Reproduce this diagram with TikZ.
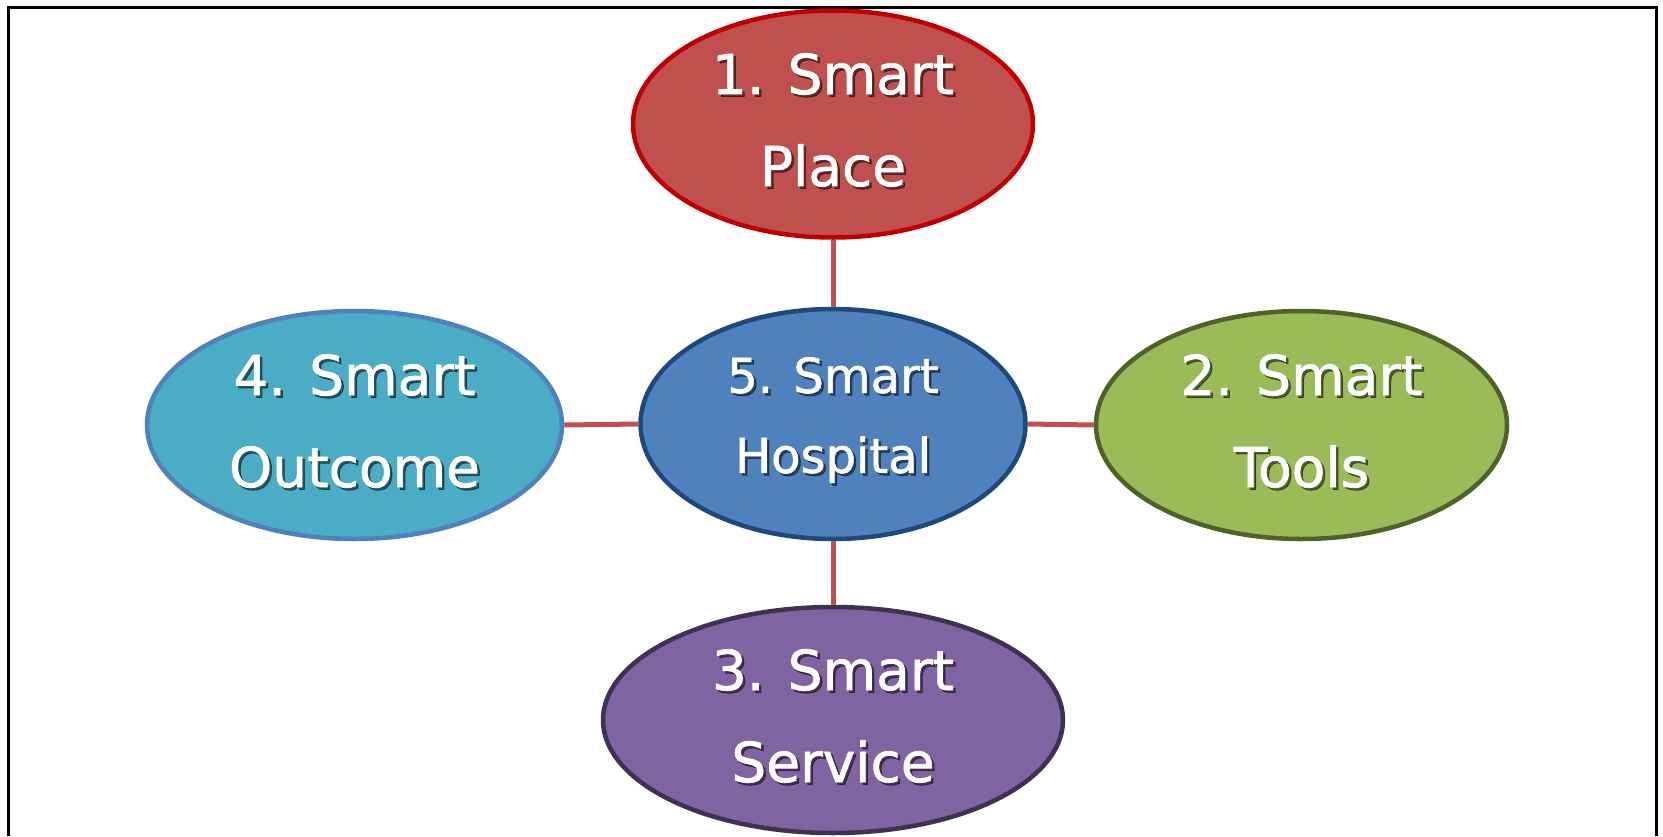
\documentclass[tikz,border=0pt]{standalone}
\usepackage{fontspec}
\setmainfont[FakeBold=1.2]{DejaVu Sans}
\usetikzlibrary{shapes.geometric}
\definecolor{placefill}{HTML}{C0504D}
\definecolor{placeline}{HTML}{C00000}
\definecolor{hospfill}{HTML}{4F81BD}
\definecolor{hospline}{HTML}{1F497D}
\definecolor{toolsfill}{HTML}{9BBB59}
\definecolor{toolsline}{HTML}{4F6228}
\definecolor{outfill}{HTML}{4BACC6}
\definecolor{outline}{HTML}{4F81BD}
\definecolor{servfill}{HTML}{8064A2}
\definecolor{servline}{HTML}{3F3151}
\definecolor{linkline}{HTML}{C0504D}
\tikzset{
	oval/.style={ellipse, line width=4.5pt, inner sep=0pt},
	ovaltext/.style={align=center, text=white, yshift=4pt, font=\fontsize{55}{92}\selectfont},
	ovalshadow/.style={ovaltext, text=black, text opacity=0.5, xshift=2.5pt, yshift=-2.5pt},
	hosptext/.style={font=\fontsize{48}{80}\selectfont},
	link/.style={line width=5pt, color=linkline}
}
\begin{document}
\begin{tikzpicture}[x=1pt, y=-1pt]
			%%%%% START %%%%%
			\useasboundingbox (0, 0) rectangle (1663, 836);
			\fill[white] (0, 0) rectangle (1663, 836);
			
			\draw[line width=3pt] (8, 836) -- (8, 7) -- (1656, 7) -- (1656, 836);
			
			\node[oval, fill=placefill, draw=placeline, minimum width=400, minimum height=227] (place) at (833, 124) {};
			\node[oval, fill=hospfill, draw=hospline, minimum width=385, minimum height=230] (hospital) at (833, 424) {};
			\node[oval, fill=toolsfill, draw=toolsline, minimum width=411, minimum height=228] (tools) at (1301.5, 425) {};
			\node[oval, fill=outfill, draw=outline, minimum width=415, minimum height=228] (outcome) at (354.5, 425) {};
			\node[oval, fill=servfill, draw=servline, minimum width=460, minimum height=226] (service) at (833, 720) {};
			
			\draw[link] (place.south) -- (hospital.north);
			\draw[link] (hospital.east) -- (tools.west);
			\draw[link] (hospital.south) -- (service.north);
			\draw[link] (outcome.east) -- (hospital.west);
			
			\node[ovalshadow] (placeshadow) at (place) {1. Smart\\Place};
			\node[ovaltext] (placetext) at (place) {1. Smart\\Place};
			
			\node[ovalshadow, hosptext] (hospshadow) at (hospital) {5. Smart\\Hospital};
			\node[ovaltext, hosptext] (hosptext) at (hospital) {5. Smart\\Hospital};
			
			\node[ovalshadow] (toolsshadow) at (tools) {2. Smart\\Tools};
			\node[ovaltext] (toolstext) at (tools) {2. Smart\\Tools};
			
			\node[ovalshadow] (outshadow) at (outcome) {4. Smart\\Outcome};
			\node[ovaltext] (outtext) at (outcome) {4. Smart\\Outcome};
			
			\node[ovalshadow] (servshadow) at (service) {3. Smart\\Service};
			\node[ovaltext] (servtext) at (service) {3. Smart\\Service};
			
			%%%%% END %%%%%
\end{tikzpicture}
\end{document}
